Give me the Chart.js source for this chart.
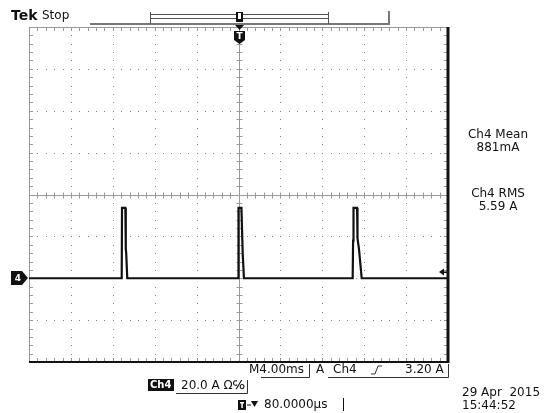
<!DOCTYPE html>
<html>
<head>
<meta charset="utf-8">
<script src="https://cdn.jsdelivr.net/npm/chart.js@4.4.1/dist/chart.umd.min.js"></script>
<style>
  body { margin: 0; background: #fff; }
  canvas { display: block; }
</style>
</head>
<body>
<canvas id="scope" width="545" height="413"></canvas>
<script>
'use strict'

// trace: time in ms (trigger at 0), current in A (ground = 0)
const timeMs = [-20, -11.15, -11.12, -10.8, -10.76, -10.72, -10.62,
                -0.03, 0.0, 0.28, 0.4, 0.52,
                10.9, 10.94, 10.98, 11.32, 11.36, 11.5, 11.76,
                20]
const currentA = [0, 0, 33.6, 33.6, 14, 12, 0,
                  0, 33.6, 33.6, 12, 0,
                  0, 18, 33.6, 33.6, 19, 14, 0,
                  0]

// screen settings
const timeTicks = [-20, -16, -12, -8, -4, 0, 4, 8, 12, 16, 20]   // 4.00 ms/div
const ampTicks = [-40, -20, 0, 20, 40, 60, 80, 100, 120]         // 20.0 A/div
const triggerLevel = 3.2

const font = '"DejaVu Sans", sans-serif'

const graticule = {
    id: 'graticule',
    beforeDatasetsDraw(chart) {
        const { ctx, chartArea: a, scales: { x, y } } = chart
        const minorX = 0.8, minorY = 4
        ctx.save()
        ctx.fillStyle = '#858585'
        // dotted division lines
        timeTicks.slice(1, -1).forEach(t => {
            if (t === 0) return
            const px = Math.round(x.getPixelForValue(t))
            for (let v = ampTicks[0]; v <= ampTicks[ampTicks.length - 1]; v += minorY)
                ctx.fillRect(px, Math.round(y.getPixelForValue(v)), 1, 1)
        })
        ampTicks.slice(1, -1).forEach(v => {
            if (v === 40) return
            const py = Math.round(y.getPixelForValue(v))
            for (let t = timeTicks[0]; t <= timeTicks[timeTicks.length - 1]; t += minorX)
                ctx.fillRect(Math.round(x.getPixelForValue(t)), py, 1, 1)
        })
        // centre cross with minor ticks
        const cx = Math.round(x.getPixelForValue(0)) + 0.5
        const cy = Math.round(y.getPixelForValue(40)) + 0.5
        ctx.strokeStyle = '#999'
        ctx.lineWidth = 1
        ctx.beginPath()
        ctx.moveTo(a.left, cy); ctx.lineTo(a.right, cy)
        ctx.moveTo(cx, a.top); ctx.lineTo(cx, a.bottom)
        for (let t = timeTicks[0]; t <= timeTicks[timeTicks.length - 1]; t += minorX) {
            const px = Math.round(x.getPixelForValue(t)) + 0.5
            ctx.moveTo(px, cy - 3); ctx.lineTo(px, cy + 3)
            ctx.moveTo(px, a.top); ctx.lineTo(px, a.top + 4)
            ctx.moveTo(px, a.bottom); ctx.lineTo(px, a.bottom - 4)
        }
        for (let v = ampTicks[0]; v <= ampTicks[ampTicks.length - 1]; v += minorY) {
            const py = Math.round(y.getPixelForValue(v)) + 0.5
            ctx.moveTo(cx - 3, py); ctx.lineTo(cx + 3, py)
            ctx.moveTo(a.left, py); ctx.lineTo(a.left + 4, py)
            ctx.moveTo(a.right, py); ctx.lineTo(a.right - 4, py)
        }
        ctx.stroke()
        // frame
        ctx.beginPath()
        ctx.moveTo(a.left + 0.5, a.bottom); ctx.lineTo(a.left + 0.5, a.top + 0.5); ctx.lineTo(a.right, a.top + 0.5)
        ctx.stroke()
        ctx.strokeStyle = '#111'
        ctx.lineWidth = 2
        ctx.beginPath()
        ctx.moveTo(a.left, a.bottom); ctx.lineTo(a.right, a.bottom)
        ctx.stroke()
        ctx.lineWidth = 3
        ctx.beginPath()
        ctx.moveTo(a.right, a.top); ctx.lineTo(a.right, a.bottom + 1)
        ctx.stroke()
        ctx.restore()
    },
    afterDatasetsDraw(chart) {
        const { ctx, scales: { x, y } } = chart
        const cx = Math.round(x.getPixelForValue(0))
        const gy = Math.round(y.getPixelForValue(0))
        ctx.save()
        ctx.fillStyle = '#111'
        ctx.textBaseline = 'middle'

        // header
        ctx.font = 'bold 14px ' + font
        ctx.fillText('Tek', 11, 16)
        ctx.font = '12px ' + font
        ctx.fillText('Stop', 42, 16)

        // record bar
        ctx.strokeStyle = '#777'
        ctx.lineWidth = 2
        ctx.beginPath()
        ctx.moveTo(90, 24); ctx.lineTo(389, 24); ctx.lineTo(389, 11)
        ctx.stroke()
        ctx.lineWidth = 1
        ctx.strokeStyle = '#555'
        ctx.beginPath()
        ctx.moveTo(150.5, 12); ctx.lineTo(150.5, 24)
        ctx.moveTo(328.5, 12); ctx.lineTo(328.5, 24)
        ctx.moveTo(150, 14.5); ctx.lineTo(329, 14.5)
        ctx.moveTo(150, 18.5); ctx.lineTo(329, 18.5)
        ctx.stroke()
        ctx.fillStyle = '#111'
        ctx.fillRect(cx - 3, 12, 7, 10)
        ctx.fillStyle = '#fff'
        ctx.fillRect(cx - 1, 13, 3, 6)
        ctx.fillStyle = '#111'
        ctx.beginPath()
        ctx.moveTo(cx - 4, 25); ctx.lineTo(cx + 5, 25); ctx.lineTo(cx + 0.5, 30)
        ctx.fill()
        // trigger position marker
        ctx.beginPath()
        ctx.moveTo(cx - 5, 31); ctx.lineTo(cx + 6, 31); ctx.lineTo(cx + 6, 40)
        ctx.lineTo(cx + 0.5, 44); ctx.lineTo(cx - 5, 40)
        ctx.fill()
        ctx.fillStyle = '#fff'
        ctx.font = 'bold 9px ' + font
        ctx.textAlign = 'center'
        ctx.fillText('T', cx + 0.5, 37)

        // channel 4 ground marker
        ctx.fillStyle = '#111'
        ctx.beginPath()
        ctx.moveTo(11, gy - 7); ctx.lineTo(22, gy - 7); ctx.lineTo(28, gy)
        ctx.lineTo(22, gy + 7); ctx.lineTo(11, gy + 7)
        ctx.fill()
        ctx.fillStyle = '#fff'
        ctx.fillText('4', 18, gy + 0.5)

        // trigger level arrow
        const ty = Math.round(y.getPixelForValue(triggerLevel))
        ctx.fillStyle = '#111'
        ctx.beginPath()
        ctx.moveTo(439, ty); ctx.lineTo(444, ty - 3.5); ctx.lineTo(444, ty + 3.5)
        ctx.fill()
        ctx.fillRect(443, ty - 0.5, 4, 1.5)

        // measurements
        ctx.font = '12px ' + font
        ctx.fillText('Ch4 Mean', 498, 135)
        ctx.fillText('881mA', 498, 148)
        ctx.fillText('Ch4 RMS', 498, 194)
        ctx.fillText('5.59 A', 498, 207)

        // bottom readout
        ctx.textAlign = 'left'
        ctx.fillText('M4.00ms', 249, 370)
        ctx.fillText('A', 316, 370)
        ctx.fillText('Ch4', 333, 370)
        ctx.fillText('3.20 A', 405, 370)
        ctx.strokeStyle = '#333'
        ctx.lineWidth = 1
        ctx.beginPath()
        ctx.moveTo(261, 377.5); ctx.lineTo(309.5, 377.5); ctx.lineTo(309.5, 364)
        ctx.moveTo(328, 377.5); ctx.lineTo(448.5, 377.5); ctx.lineTo(448.5, 364)
        // edge symbol
        ctx.moveTo(371, 374); ctx.lineTo(375, 374); ctx.lineTo(378, 366); ctx.lineTo(382, 366)
        ctx.stroke()

        ctx.fillStyle = '#111'
        ctx.fillRect(148, 379, 26, 12)
        ctx.fillStyle = '#fff'
        ctx.font = 'bold 10px ' + font
        ctx.fillText('Ch4', 150, 385.5)
        ctx.fillStyle = '#111'
        ctx.font = '12px ' + font
        ctx.fillText('20.0 A \u03A9\u2105', 181, 386)
        ctx.beginPath()
        ctx.moveTo(176, 393.5); ctx.lineTo(247.5, 393.5); ctx.lineTo(247.5, 380)
        ctx.stroke()

        // horizontal position
        ctx.fillRect(238, 400, 8, 10)
        ctx.fillStyle = '#fff'
        ctx.fillRect(240, 402, 4, 1.5)
        ctx.fillRect(241.3, 402, 1.5, 6)
        ctx.fillStyle = '#111'
        ctx.fillRect(247, 404.5, 4, 1)
        ctx.beginPath()
        ctx.moveTo(251, 401); ctx.lineTo(258, 401); ctx.lineTo(254.5, 407)
        ctx.fill()
        ctx.fillText('80.0000\u00B5s', 264, 405)
        ctx.fillRect(343, 398, 1, 13)

        ctx.fillText('29 Apr  2015', 462, 393)
        ctx.fillText('15:44:52', 462, 406)
        ctx.restore()
    }
}

new Chart(document.getElementById('scope').getContext('2d'), {
    type: 'line',
    data: {
        datasets: [{
            data: timeMs.map((t, i) => ({ x: t, y: currentA[i] })),
            borderColor: '#111',
            borderWidth: 2.2,
            pointRadius: 0,
            tension: 0
        }]
    },
    options: {
        responsive: false,
        animation: false,
        layout: { padding: { left: 29, right: 97, top: 27, bottom: 51 } },
        scales: {
            x: { type: 'linear', min: timeTicks[0], max: timeTicks[timeTicks.length - 1], display: false },
            y: { min: ampTicks[0], max: ampTicks[ampTicks.length - 1], display: false }
        },
        plugins: { legend: { display: false }, tooltip: { enabled: false } }
    },
    plugins: [graticule]
})
</script>
</body>
</html>
